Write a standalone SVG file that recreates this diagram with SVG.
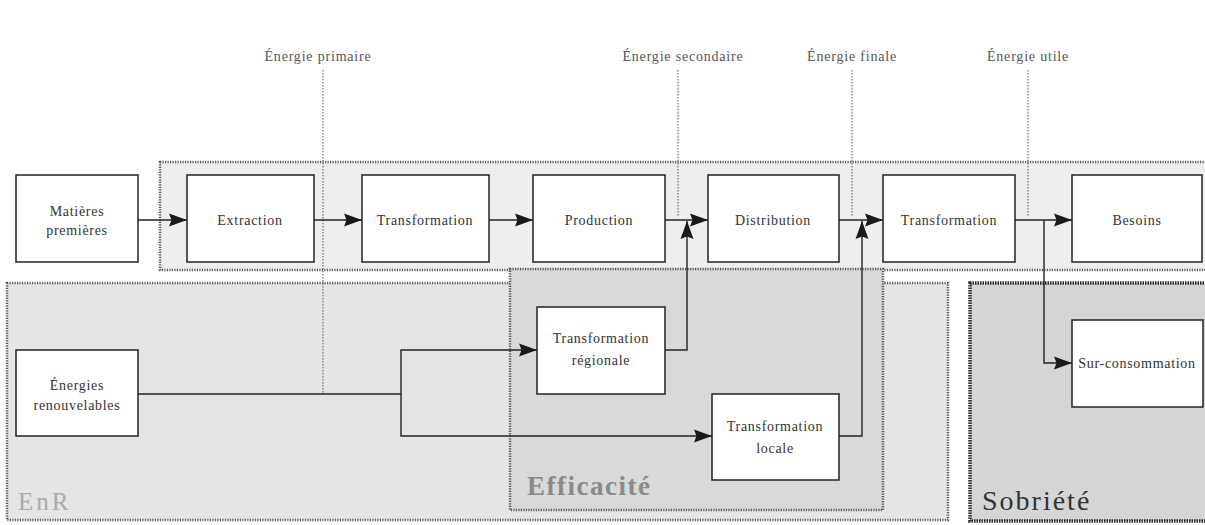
<svg xmlns="http://www.w3.org/2000/svg" width="1205" height="525" viewBox="0 0 1205 525">
<defs>
<style>
.box{fill:#fff;stroke:#222;stroke-width:1.5}
.t{font-family:Liberation Serif,DejaVu Serif,serif;font-size:14px;letter-spacing:0.7px;fill:#333;text-anchor:middle}
.lvl{font-family:Liberation Serif,DejaVu Serif,serif;font-size:14px;letter-spacing:0.8px;fill:#555;text-anchor:middle}
.big{font-family:Liberation Serif,DejaVu Serif,serif}
.c{fill:none;stroke:#222;stroke-width:1.4}
.tick{fill:none;stroke:#555;stroke-width:1;stroke-dasharray:1.5,1.5}
.reg{stroke:#5a5a5a;stroke-width:2.5;stroke-dasharray:1.2,1.3}
</style>
<marker id="ah" markerUnits="userSpaceOnUse" markerWidth="20" markerHeight="14" refX="18" refY="7" orient="auto">
<path d="M0,0.5 L18,7 L0,13.5 L2.5,7 z" fill="#1a1a1a"/>
</marker>
</defs>
<rect x="0" y="0" width="1205" height="525" fill="#fff"/>
<g id="regions">
<rect id="reg-top" class="reg" x="160" y="162" width="1050" height="108" fill="#eeeeee"/>
<rect id="reg-enr" class="reg" x="7" y="283" width="941" height="237" fill="#e5e5e5"/>
<rect id="reg-eff" class="reg" x="510" y="269" width="373" height="241" fill="#d9d9d9"/>
<rect id="reg-sob" x="970" y="283" width="240" height="238" fill="#d5d5d5" stroke="#2a2a2a" stroke-width="3.5" stroke-dasharray="1.5,1"/>
<text class="big" x="18" y="510" font-size="25" letter-spacing="3" fill="#aaa">EnR</text>
<text class="big" x="527" y="495" font-size="27" letter-spacing="1.5" font-weight="bold" fill="#8a8a8a">Efficacité</text>
<text class="big" x="982" y="510" font-size="28" letter-spacing="2" fill="#333">Sobriété</text>
</g>
<g id="levels">
<text class="lvl" x="318" y="61">Énergie primaire</text>
<text class="lvl" x="683" y="61">Énergie secondaire</text>
<text class="lvl" x="852" y="61">Énergie finale</text>
<text class="lvl" x="1028" y="61">Énergie utile</text>
<path class="tick" d="M323,70 V393"/>
<path class="tick" d="M678,70 V216"/>
<path class="tick" d="M852,70 V216"/>
<path class="tick" d="M1028,70 V216"/>
</g>
<g id="connectors">
<path class="c" d="M138,220 H187" marker-end="url(#ah)"/>
<path class="c" d="M314,220 H362" marker-end="url(#ah)"/>
<path class="c" d="M489,220 H533" marker-end="url(#ah)"/>
<path class="c" d="M665,220 H708" marker-end="url(#ah)"/>
<path class="c" d="M839,220 H883" marker-end="url(#ah)"/>
<path class="c" d="M1015,220 H1072" marker-end="url(#ah)"/>
<path class="c" d="M1044,220 V363 H1072" marker-end="url(#ah)"/>
<path class="c" d="M138,394 H401"/>
<path class="c" d="M401,394 V350 H537" marker-end="url(#ah)"/>
<path class="c" d="M401,394 V436 H712" marker-end="url(#ah)"/>
<path class="c" d="M665,350 H687 V221" marker-end="url(#ah)"/>
<path class="c" d="M839,436 H862 V221" marker-end="url(#ah)"/>
</g>
<g id="n-matieres"><rect class="box" x="16" y="175" width="122" height="87"/><text class="t" x="77" y="216">Matières</text><text class="t" x="77" y="235">premières</text></g>
<g id="n-extraction"><rect class="box" x="187" y="175" width="127" height="87"/><text class="t" x="250" y="225">Extraction</text></g>
<g id="n-transfo1"><rect class="box" x="362" y="175" width="127" height="87"/><text class="t" x="425" y="225">Transformation</text></g>
<g id="n-production"><rect class="box" x="533" y="175" width="132" height="87"/><text class="t" x="599" y="225">Production</text></g>
<g id="n-distribution"><rect class="box" x="708" y="175" width="131" height="87"/><text class="t" x="773" y="225">Distribution</text></g>
<g id="n-transfo2"><rect class="box" x="883" y="175" width="132" height="87"/><text class="t" x="949" y="225">Transformation</text></g>
<g id="n-besoins"><rect class="box" x="1072" y="175" width="130" height="87"/><text class="t" x="1137" y="225">Besoins</text></g>
<g id="n-enr"><rect class="box" x="16" y="350" width="122" height="86"/><text class="t" x="77" y="390">Énergies</text><text class="t" x="77" y="410">renouvelables</text></g>
<g id="n-regionale"><rect class="box" x="537" y="307" width="128" height="87"/><text class="t" x="601" y="343">Transformation</text><text class="t" x="601" y="365">régionale</text></g>
<g id="n-locale"><rect class="box" x="712" y="394" width="127" height="86"/><text class="t" x="775" y="431">Transformation</text><text class="t" x="775" y="453">locale</text></g>
<g id="n-surconso"><rect class="box" x="1072" y="320" width="131" height="87"/><text class="t" x="1137" y="368">Sur-consommation</text></g>
</svg>
